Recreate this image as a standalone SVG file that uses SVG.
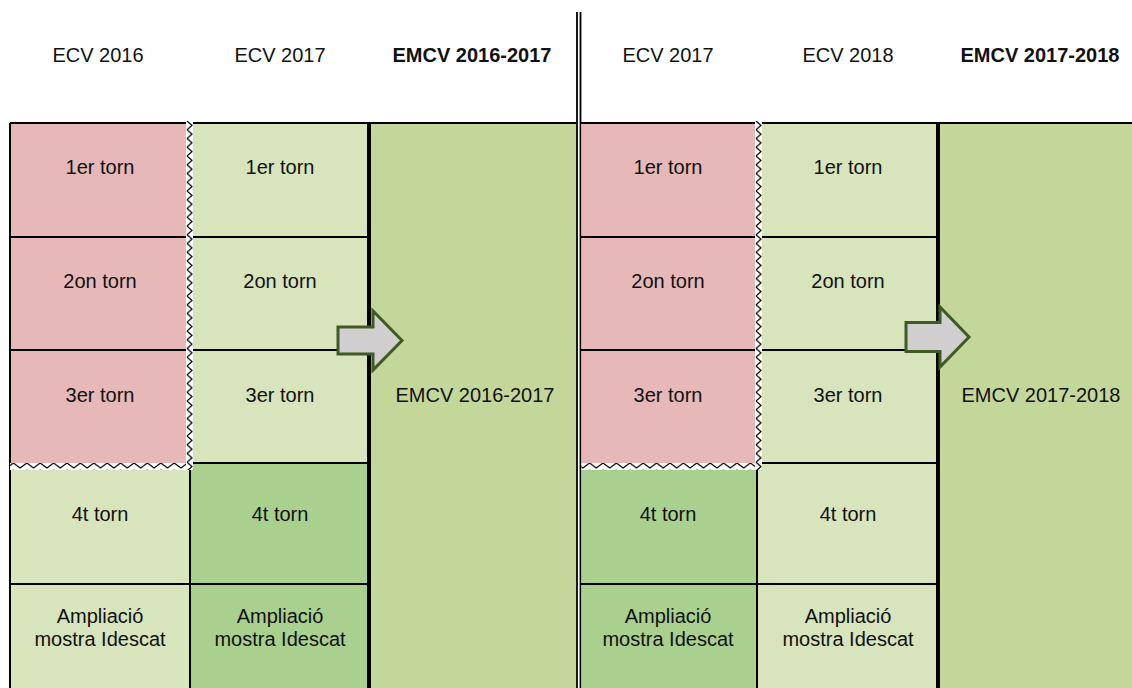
<svg xmlns="http://www.w3.org/2000/svg" width="1132" height="688" viewBox="0 0 1132 688">
<style>
  text{font-family:"Liberation Sans",Arial,sans-serif;font-size:20px;fill:#111;text-anchor:middle}
  .b{font-weight:bold}
  .pink{fill:#E6B8B7}
  .lg{fill:#D8E4BC}
  .dg{fill:#A9D08E}
  .em{fill:#C4D79B}
  .ln{stroke:#000;stroke-width:2;fill:none}
  .thk{stroke:#000;stroke-width:4;fill:none}
  .arrow{fill:#D0CECE;stroke:#3F5A22;stroke-width:3;stroke-linejoin:miter}
</style>
<defs>
  <pattern id="zv" patternUnits="userSpaceOnUse" width="7" height="8.75">
    <rect width="7" height="8.75" fill="#fff"/>
    <path d="M1,0 L6,4.375 L1,8.75" fill="none" stroke="#000" stroke-width="1.2"/>
  </pattern>
  <pattern id="zh" patternUnits="userSpaceOnUse" width="13.4" height="7">
    <rect width="13.4" height="7" fill="#fff"/>
    <path d="M0,1 L6.7,6 L13.4,1" fill="none" stroke="#000" stroke-width="1.2"/>
  </pattern>
</defs>
<rect width="1132" height="688" fill="#fff"/>

<g id="headers">
  <text x="98" y="62">ECV 2016</text>
  <text x="280" y="62">ECV 2017</text>
  <text x="472" y="62" class="b">EMCV 2016-2017</text>
  <text x="668" y="62">ECV 2017</text>
  <text x="848" y="62">ECV 2018</text>
  <text x="1040" y="62" class="b">EMCV 2017-2018</text>
</g>

<g id="left-block">
  <g id="ecv2016">
    <rect class="pink" x="10" y="123" width="176" height="340"/>
    <rect class="lg" x="10" y="470" width="180" height="218"/>
    <text x="100" y="174">1er torn</text>
    <text x="100" y="288">2on torn</text>
    <text x="100" y="402">3er torn</text>
    <text x="100" y="521">4t torn</text>
    <text x="100" y="623">Ampliació</text>
    <text x="100" y="646">mostra Idescat</text>
  </g>
  <g id="ecv2017a">
    <rect class="lg" x="193" y="123" width="175" height="340"/>
    <rect class="dg" x="190" y="463" width="178" height="225"/>
    <text x="280" y="174">1er torn</text>
    <text x="280" y="288">2on torn</text>
    <text x="280" y="402">3er torn</text>
    <text x="280" y="521">4t torn</text>
    <text x="280" y="623">Ampliació</text>
    <text x="280" y="646">mostra Idescat</text>
  </g>
  <g id="emcv1617">
    <rect class="em" x="369" y="123" width="207" height="565"/>
    <text x="475" y="402">EMCV 2016-2017</text>
  </g>
  <g id="lines-left">
    <path class="ln" d="M10,123 H576 M10,123 V688 M10,237 H186 M193,237 H368 M10,350 H186 M193,350 H368 M190,463 H368 M10,584 H368 M190,463 V688"/>
    <path class="thk" d="M369,123 V688"/>
  </g>
  <g id="torn-left">
    <rect x="10" y="463" width="183" height="7" fill="url(#zh)"/>
    <g transform="translate(186,121)"><rect width="7" height="349" fill="url(#zv)"/></g>
  </g>
</g>

<g id="divider">
  <path d="M577,12 V688 M580.5,12 V688" stroke="#000" stroke-width="1.8" fill="none"/>
</g>

<g id="right-block">
  <g id="ecv2017b">
    <rect class="pink" x="581.5" y="123" width="173.5" height="340"/>
    <rect class="dg" x="581.5" y="470" width="175.5" height="218"/>
    <text x="668" y="174">1er torn</text>
    <text x="668" y="288">2on torn</text>
    <text x="668" y="402">3er torn</text>
    <text x="668" y="521">4t torn</text>
    <text x="668" y="623">Ampliació</text>
    <text x="668" y="646">mostra Idescat</text>
  </g>
  <g id="ecv2018">
    <rect class="lg" x="762" y="123" width="176" height="340"/>
    <rect class="lg" x="757" y="463" width="181" height="225"/>
    <text x="848" y="174">1er torn</text>
    <text x="848" y="288">2on torn</text>
    <text x="848" y="402">3er torn</text>
    <text x="848" y="521">4t torn</text>
    <text x="848" y="623">Ampliació</text>
    <text x="848" y="646">mostra Idescat</text>
  </g>
  <g id="emcv1718">
    <rect class="em" x="938" y="123" width="194" height="565"/>
    <text x="1041" y="402">EMCV 2017-2018</text>
  </g>
  <g id="lines-right">
    <path class="ln" d="M581,123 H1132 M581,237 H755 M762,237 H938 M581,350 H755 M762,350 H938 M757,463 H938 M581,584 H938 M757,470 V688"/>
    <path class="thk" d="M938,123 V688"/>
  </g>
  <g id="torn-right">
    <rect x="581.5" y="463" width="180.5" height="7" fill="url(#zh)"/>
    <g transform="translate(755,121)"><rect width="7" height="349" fill="url(#zv)"/></g>
  </g>
</g>

<g id="connectors">
  <path class="arrow" d="M338,327 H373 V311 L402,340.5 L373,370 V354 H338 Z"/>
  <path class="arrow" d="M906,322.5 H940 V307 L969,337 L940,367 V351.5 H906 Z"/>
</g>
</svg>
